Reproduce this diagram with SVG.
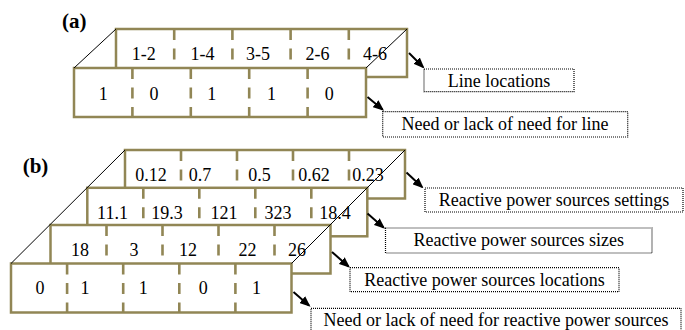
<svg xmlns="http://www.w3.org/2000/svg" width="685" height="330" viewBox="0 0 685 330">
<defs>
<style>
.box{fill:#fff;stroke:#918655;stroke-width:2.5}
.dv{stroke:#918655;stroke-width:2.6;stroke-dasharray:11 8.5;fill:none}
.diag{stroke:#000;stroke-width:1;fill:none}
.lbl{fill:#fff;stroke:#000;stroke-width:1.2;stroke-dasharray:1 1}
.c{text-anchor:middle}
.t{font-weight:bold;font-size:21px}
.arr{stroke:#000;stroke-width:2;fill:none;marker-end:url(#ah)}
</style>
<marker id="ah" markerUnits="userSpaceOnUse" markerWidth="11" markerHeight="9" refX="9" refY="4.5" orient="auto">
<path d="M0,0 L11,4.5 L0,9 z" fill="#000"/>
</marker>
</defs>
<g font-family="'Liberation Serif', 'Tinos', 'DejaVu Serif', serif" font-size="18" fill="#000">

<g id="title-a"><text class="t" x="62" y="27.5">(a)</text></g>

<g id="a-line-locations-row">
<rect class="box" x="116" y="29" width="291" height="48"/>
<path class="dv" d="M174.2,29V77M232.4,29V77M290.6,29V77M348.8,29V77"/>
<text class="c" x="143.7" y="60">1-2</text>
<text class="c" x="202.5" y="60">1-4</text>
<text class="c" x="258" y="60">3-5</text>
<text class="c" x="317.5" y="60">2-6</text>
<text class="c" x="375" y="60">4-6</text>
</g>

<g id="a-need-row">
<rect class="box" x="74" y="68" width="292" height="49"/>
<path class="dv" d="M132.4,68V117M190.8,68V117M249.2,68V117M307.6,68V117"/>
<text class="c" x="103.3" y="100">1</text>
<text class="c" x="154" y="100">0</text>
<text class="c" x="211.7" y="100">1</text>
<text class="c" x="271.5" y="100">1</text>
<text class="c" x="329.3" y="100">0</text>
</g>

<g id="a-perspective">
<path class="diag" d="M74,68L116,29M366,68L407,29"/>
</g>

<g id="a-label-line-locations">
<rect class="lbl" x="424" y="69" width="150" height="22.7"/>
<text class="c" x="499" y="86.5">Line locations</text>
</g>

<g id="a-label-need-line">
<rect class="lbl" x="382.7" y="111.7" width="245" height="25.3"/>
<text class="c" x="505" y="130">Need or lack of need for line</text>
</g>

<g id="title-b"><text class="t" x="22.7" y="173">(b)</text></g>

<g id="b-settings-row">
<rect class="box" x="125" y="150" width="280" height="48.5"/>
<path class="dv" d="M181,150V198.5M237,150V198.5M293,150V198.5M349,150V198.5"/>
<text class="c" x="151" y="181">0.12</text>
<text class="c" x="200" y="181">0.7</text>
<text class="c" x="259.5" y="181">0.5</text>
<text class="c" x="314" y="181">0.62</text>
<text class="c" x="368" y="181">0.23</text>
</g>

<g id="b-sizes-row">
<rect class="box" x="87.3" y="187.8" width="280" height="48.5"/>
<path class="dv" d="M143.3,187.8V236.3M199.3,187.8V236.3M255.3,187.8V236.3M311.3,187.8V236.3"/>
<text class="c" x="112.5" y="219">11.1</text>
<text class="c" x="167" y="219">19.3</text>
<text class="c" x="224" y="219">121</text>
<text class="c" x="278" y="219">323</text>
<text class="c" x="335" y="219">18.4</text>
</g>

<g id="b-locations-row">
<rect class="box" x="50.5" y="225" width="280" height="48.5"/>
<path class="dv" d="M106.5,225V273.5M162.5,225V273.5M218.5,225V273.5M274.5,225V273.5"/>
<text class="c" x="80" y="256">18</text>
<text class="c" x="134" y="256">3</text>
<text class="c" x="188" y="256">12</text>
<text class="c" x="247.5" y="256">22</text>
<text class="c" x="297" y="256">26</text>
</g>

<g id="b-need-row">
<rect class="box" x="11" y="263.5" width="280.5" height="49"/>
<path class="dv" d="M67.1,263.5V312.5M123.2,263.5V312.5M179.3,263.5V312.5M235.4,263.5V312.5"/>
<text class="c" x="40" y="294">0</text>
<text class="c" x="85" y="294">1</text>
<text class="c" x="143.2" y="294">1</text>
<text class="c" x="203.3" y="294">0</text>
<text class="c" x="256.5" y="294">1</text>
</g>

<g id="b-perspective">
<path class="diag" d="M11,263.5L125,150M291.5,263.5L405,150"/>
</g>

<g id="b-label-settings">
<rect class="lbl" x="425" y="188" width="258" height="24"/>
<text class="c" x="554" y="206">Reactive power sources settings</text>
</g>

<g id="b-label-sizes">
<rect class="lbl" x="385.5" y="228" width="266.5" height="25"/>
<text class="c" x="518.7" y="246">Reactive power sources sizes</text>
</g>

<g id="b-label-locations">
<rect class="lbl" x="350" y="267.7" width="269" height="24"/>
<text class="c" x="484.5" y="286">Reactive power sources locations</text>
</g>

<g id="b-label-need">
<rect class="lbl" x="311" y="308.3" width="370" height="24"/>
<text class="c" x="496" y="326">Need or lack of need for reactive power sources</text>
</g>

<g id="connectors">
<line class="arr" x1="409" y1="53" x2="423" y2="67"/>
<line class="arr" x1="367.5" y1="97" x2="382.5" y2="109.5"/>
<line class="arr" x1="406.5" y1="172.5" x2="422" y2="187"/>
<line class="arr" x1="367.5" y1="213.5" x2="383.5" y2="227.5"/>
<line class="arr" x1="332" y1="252" x2="348.5" y2="266.5"/>
<line class="arr" x1="293.5" y1="292" x2="309" y2="305.5"/>
</g>
</g>
</svg>
